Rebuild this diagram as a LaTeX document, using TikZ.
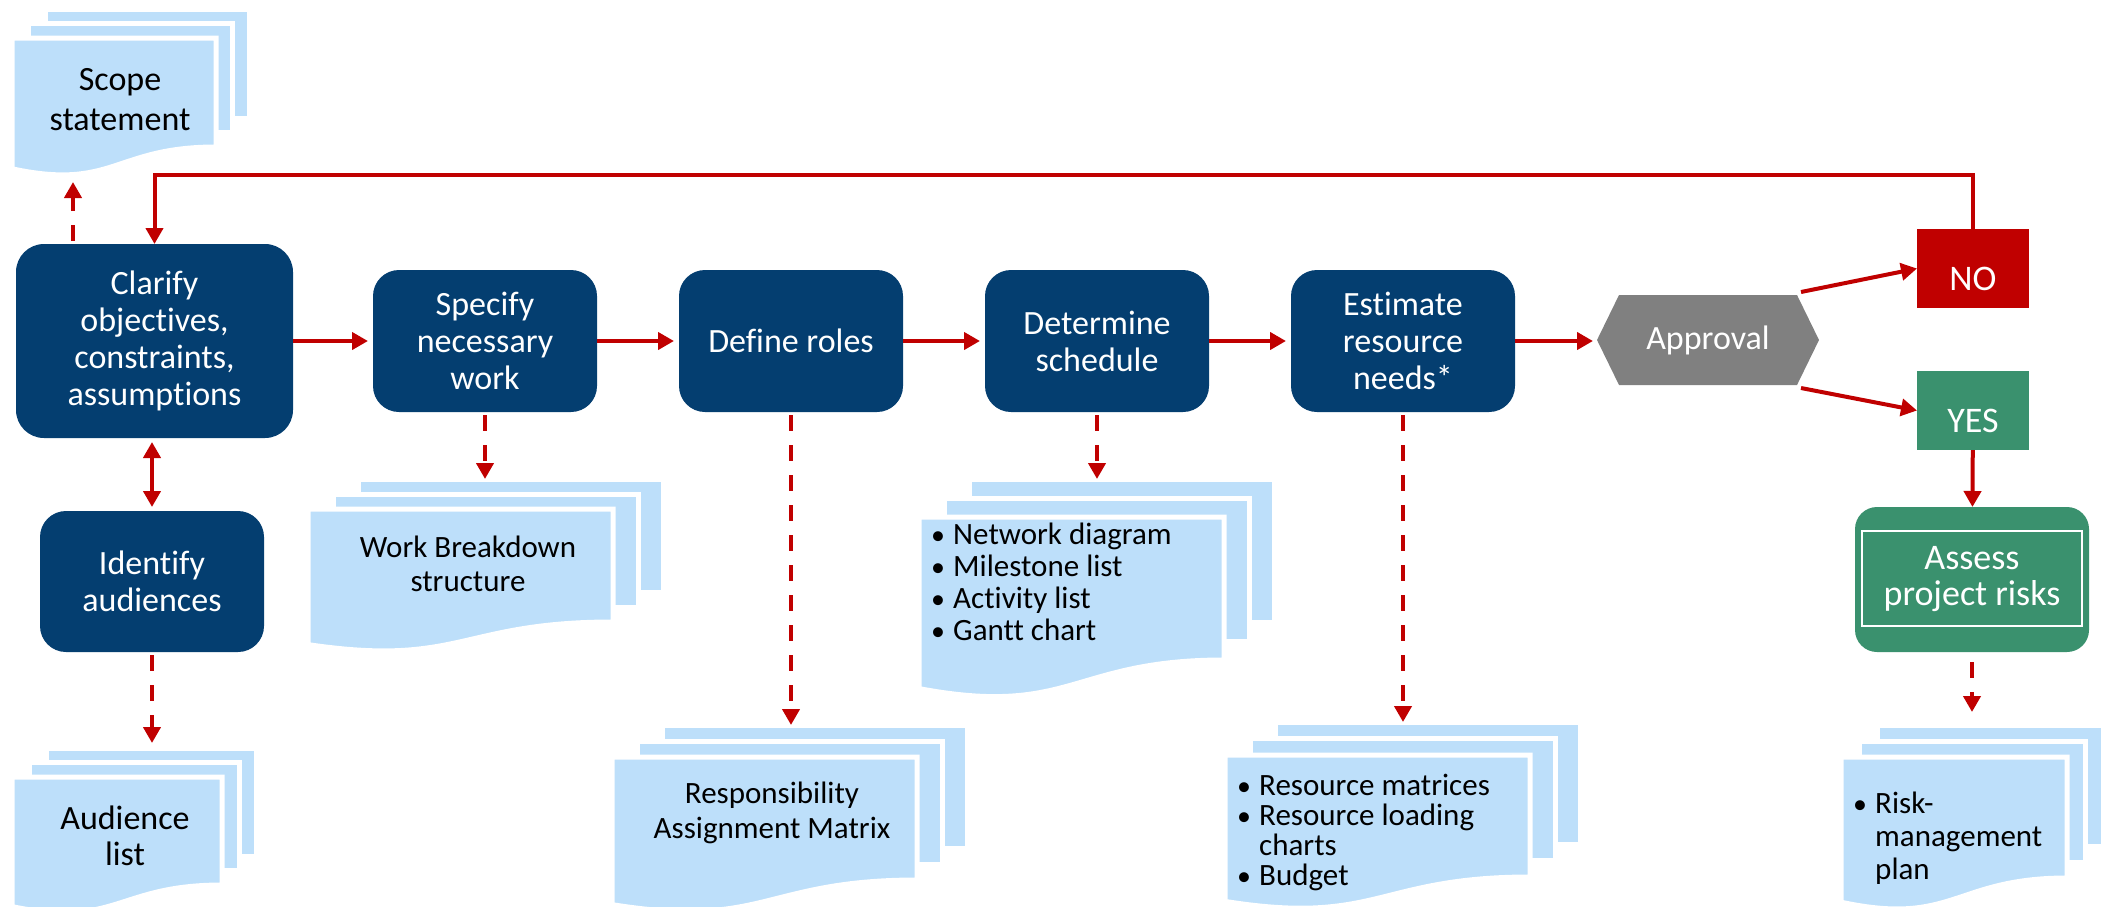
\documentclass[tikz,border=0pt]{standalone}
\usepackage{fontspec}
\setmainfont{Carlito}[Ligatures=NoCommon]
\usetikzlibrary{arrows.meta}
\definecolor{navybox}{RGB}{4,62,112}
\definecolor{arrowred}{RGB}{192,0,0}
\definecolor{docblue}{RGB}{189,223,250}
\definecolor{greybox}{RGB}{128,128,128}
\definecolor{greenbox}{RGB}{58,145,110}
\tikzset{
  redtip/.tip={Triangle[length=16pt, width=17pt]},
  procbox/.style={fill=navybox, rounded corners=26pt, text=white, align=center,
    font=\fontsize{34}{37}\selectfont, inner sep=0pt, outer sep=0pt},
  decbox/.style={minimum width=222, minimum height=90, text=white, inner sep=0pt, outer sep=0pt,
    font=\fontsize{34}{37}\selectfont,
    path picture={\fill[greybox] (path picture bounding box.west)
      -- ([xshift=22pt]path picture bounding box.north west)
      -- ([xshift=-22pt]path picture bounding box.north east)
      -- (path picture bounding box.east)
      -- ([xshift=-22pt]path picture bounding box.south east)
      -- ([xshift=22pt]path picture bounding box.south west) -- cycle;}},
  nobox/.style={fill=arrowred, text=white, minimum width=112, minimum height=79,
    font=\fontsize{36}{40}\selectfont, inner sep=0pt, outer sep=0pt},
  yesbox/.style={nobox, fill=greenbox},
  riskbox/.style={procbox, fill=greenbox, rounded corners=22pt, font=\fontsize{36}{36}\selectfont},
  docsheet/.style={fill=docblue, draw=white, line width=5pt, inner sep=0pt, outer sep=0pt},
  doctext/.style={align=center, font=\fontsize{34}{40}\selectfont, inner sep=0pt},
  doclist/.style={align=left, font=\fontsize{31}{32}\selectfont, inner sep=0pt},
  flow/.style={draw=arrowred, line width=4pt, -redtip},
  dflow/.style={flow, dash pattern=on 16pt off 14pt, shorten <=3pt}
}
% stack of three sheets: name, left x, top y, width, right height, dx, dy
\newcommand{\docstack}[7]{%
  \node[docsheet, anchor=north west, minimum width=#4, minimum height=#5] (#1-back) at ({#2+2*#6},{#3-2*#7}) {};
  \node[docsheet, anchor=north west, minimum width=#4, minimum height=#5] (#1-mid) at ({#2+#6},{#3-#7}) {};
  \draw[docsheet] (#2,#3) -- ({#2+#4},#3) -- ({#2+#4},{#3+#5})
    .. controls ({#2+0.5*#4},{#3+#5}) and ({#2+0.5*#4},{#3+1.4*#5}) .. (#2,{#3+1.2*#5}) -- cycle;
}
\newcommand{\bul}{\makebox[20pt][l]{\hspace{-2pt}\scalebox{0.9}{•}}}
\newcommand{\lowtext}[1]{\raisebox{-10pt}[\height][0pt]{#1}}
\begin{document}
\begin{tikzpicture}[x=1pt, y=-1pt]
  \useasboundingbox (0,0) rectangle (2111,906);
  \clip (0,0) rectangle (2111,906);
  % documents
  \docstack{scope}{12}{38}{204}{109}{16.5}{14.5}
  \docstack{aud}{12}{777}{210}{108}{17}{14.5}
  \docstack{wbs}{308}{509}{305}{113}{25}{15}
  \docstack{ram}{612}{757}{305}{123}{25}{16}
  \docstack{sch}{919}{517}{305}{143}{25}{19}
  \docstack{res}{1225}{755}{305}{122}{25}{16.5}
  \docstack{rmp}{1841}{757}{226}{121}{18}{16}
  \node[doctext] (scope) at (120,100) {Scope\\statement};
  \node[doctext, font=\fontsize{34}{36}\selectfont] (aud) at (125,836) {Audience\\list};
  \node[doctext, font=\fontsize{31}{34}\selectfont] (wbs) at (468,564) {Work Breakdown\\structure};
  \node[doctext, font=\fontsize{31}{35}\selectfont] (ram) at (772,813) {Responsibility\\Assignment Matrix};
  \node[doclist, anchor=west] (sch) at (933,582) {\bul Network diagram\\\bul Milestone list\\\bul Activity list\\\bul Gantt chart};
  \node[doclist, anchor=west, font=\fontsize{31}{30}\selectfont] (res) at (1239,832)
    {\bul Resource matrices\\\bul Resource loading\\\hspace*{20pt}charts\\\bul Budget};
  \node[doclist, anchor=west, font=\fontsize{31}{33}\selectfont] (rmp) at (1855,838)
    {\bul Risk-\\\hspace*{20pt}management\\\hspace*{20pt}plan};
  % process steps
  \node[procbox, minimum width=277, minimum height=194, rounded corners=28pt] (clar) at (154.5,341)
    {Clarify\\objectives,\\constraints,\\assumptions};
  \node[procbox, minimum width=224, minimum height=141] (ident) at (152,581.5) {Identify\\audiences};
  \node[procbox, minimum width=224, minimum height=142] (spec) at (485,341) {Specify\\necessary\\work};
  \node[procbox, minimum width=224, minimum height=142] (roles) at (791,341) {Define roles};
  \node[procbox, minimum width=224, minimum height=142] (sched) at (1097,341) {Determine\\schedule};
  \node[procbox, minimum width=224, minimum height=142] (est) at (1403,341) {Estimate\\resource\\needs*};
  \node[decbox] (appr) at (1708,340) {Approval};
  \node[nobox] (no) at (1973,268.5) {\lowtext{NO}};
  \node[yesbox] (yes) at (1973,410.5) {\lowtext{YES}};
  \node[riskbox, minimum width=234, minimum height=145] (risk) at (1972,579.5) {Assess\\project risks};
  \draw[white, line width=2pt] ([xshift=7pt,yshift=-24pt]risk.north west) rectangle ([xshift=-7pt,yshift=26pt]risk.south east);
  % connectors
  \coordinate (loop) at (0,175);
  \coordinate (scopeend) at (73,182);
  \draw[flow] (no.north) -- (no.north |- loop) -| (clar.north);
  \draw[dflow] (clar.north -| scopeend) -- (scopeend);
  \draw[flow, redtip-redtip, shorten <=4pt, shorten >=4pt] (ident.north) -- (ident.north |- clar.south);
  \draw[dflow, shorten >=5pt] (ident.south) -- (ident.south |- aud-back.north);
  \draw[flow, shorten >=5pt] (clar) -- (spec); \draw[flow, shorten >=5pt] (spec) -- (roles);
  \draw[flow, shorten >=5pt] (roles) -- (sched); \draw[flow, shorten >=5pt] (sched) -- (est);
  \draw[flow, shorten >=4pt] (est.east) -- (appr.west |- est.east);
  \draw[flow] ([xshift=-18pt,yshift=3pt]appr.north east) -- (no.west);
  \draw[flow] ([xshift=-18pt,yshift=-3pt]appr.south east) -- (yes.west);
  \draw[flow] (yes) -- (risk);
  \draw[dflow] (spec.south) -- (spec.south |- wbs-back.north);
  \draw[dflow] (roles.south) -- (roles.south |- ram-back.north);
  \draw[dflow] (sched.south) -- (sched.south |- sch-back.north);
  \draw[dflow] (est.south) -- (est.south |- res-back.north);
  \draw[dflow, shorten <=10pt, shorten >=13pt] (risk.south) -- (risk.south |- rmp-back.north);
\end{tikzpicture}
\end{document}
